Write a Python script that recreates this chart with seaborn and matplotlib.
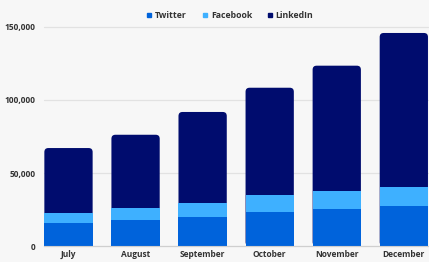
import matplotlib
matplotlib.use("Agg")
import matplotlib.pyplot as plt
import seaborn as sns
import pandas as pd
import numpy as np
from matplotlib.patches import FancyBboxPatch
from matplotlib.lines import Line2D
from matplotlib.ticker import FuncFormatter

months = ["July", "August", "September", "October", "November", "December"]
twitter = [16000, 17800, 20100, 23100, 25300, 27400]
facebook = [6600, 8400, 9100, 11600, 12200, 13200]
linkedin = [44500, 50000, 62600, 73700, 86000, 105300]

series_names = ["Twitter", "Facebook", "LinkedIn"]
colors = {"Twitter": "#0063db", "Facebook": "#3eb0ff", "LinkedIn": "#000c6e"}
bg = "#f7f7f7"

sns.set_theme(style="white")
plt.rcParams["font.family"] = ["Open Sans", "DejaVu Sans"]

df = pd.DataFrame({"month": months, "Twitter": twitter,
                   "Facebook": facebook, "LinkedIn": linkedin})
df["cum_tw"] = df["Twitter"]
df["cum_fb"] = df["Twitter"] + df["Facebook"]
df["cum_li"] = df["cum_fb"] + df["LinkedIn"]

fig = plt.figure(figsize=(4.29, 2.62), dpi=100, facecolor=bg)
ax = fig.add_axes([0.1026, 0.061, 0.895, 0.836], facecolor=bg)

width = 0.72
n_before = len(ax.patches)
sns.barplot(data=df, x="month", y="cum_li", color=colors["LinkedIn"],
            saturation=1, width=width, ax=ax, zorder=2, linewidth=0, edgecolor="none")
top_patches = list(ax.patches[n_before:])
sns.barplot(data=df, x="month", y="cum_fb", color=colors["Facebook"],
            saturation=1, width=width, ax=ax, zorder=3, linewidth=0, edgecolor="none")
sns.barplot(data=df, x="month", y="cum_tw", color=colors["Twitter"],
            saturation=1, width=width, ax=ax, zorder=4, linewidth=0, edgecolor="none")

ax.set_xlim(-0.365, 5.36)
ax.set_ylim(0, 150000)

# round the top corners of the top layer
fig.canvas.draw()
bbox = ax.get_window_extent()
xr = ax.get_xlim()[1] - ax.get_xlim()[0]
yr = ax.get_ylim()[1] - ax.get_ylim()[0]
rad_px = 4.0
rx = rad_px * xr / bbox.width
ry = rad_px * yr / bbox.height
for p in top_patches:
    x0, y0 = p.get_x(), p.get_y()
    w, h = p.get_width(), p.get_height()
    p.set_visible(False)
    fb = FancyBboxPatch((x0, y0), w, h,
                        boxstyle=f"round,pad=0,rounding_size={rx}",
                        mutation_aspect=ry / rx,
                        facecolor=colors["LinkedIn"], edgecolor="none",
                        linewidth=0, zorder=2)
    ax.add_patch(fb)

ax.set_yticks([0, 50000, 100000, 150000])
ax.yaxis.set_major_formatter(FuncFormatter(lambda v, _: f"{int(v):,}"))
ax.grid(axis="y", color="#e2e2e2", linewidth=0.9, zorder=0)
ax.set_axisbelow(True)
for s in ["top", "right", "left"]:
    ax.spines[s].set_visible(False)
ax.spines["bottom"].set_color("#cfcfcf")
ax.spines["bottom"].set_linewidth(0.8)
ax.spines["bottom"].set_zorder(5)
ax.set_xlabel("")
ax.set_ylabel("")
ax.tick_params(axis="both", length=0, labelsize=6, labelcolor="#333333")
ax.tick_params(axis="y", pad=6)
ax.tick_params(axis="x", pad=3)
for lbl in ax.get_xticklabels() + ax.get_yticklabels():
    lbl.set_fontweight("bold")
for gl in ax.get_ygridlines():
    gl.set_clip_on(False)

handles = [Line2D([], [], marker="s", linestyle="none", markersize=3.2,
                  markerfacecolor=colors[n], markeredgecolor=colors[n])
           for n in series_names]
leg = fig.legend(handles, series_names, loc="center", bbox_to_anchor=(0.535, 0.94),
                 ncol=3, frameon=False, fontsize=6.3, handletextpad=0.3,
                 columnspacing=1.6, handlelength=0.8)
for t in leg.get_texts():
    t.set_fontweight("bold")
    t.set_color("#333333")

fig.savefig("out.png", dpi=100, facecolor=bg)
